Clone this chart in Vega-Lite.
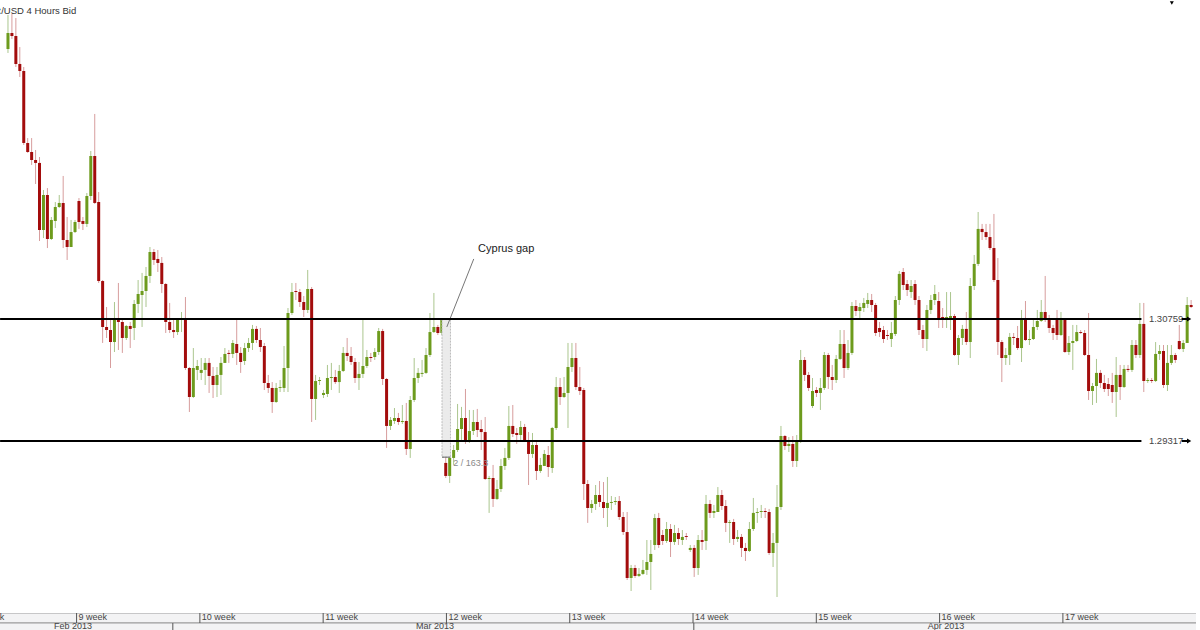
{
"$schema":"https://vega.github.io/schema/vega-lite/v6.json",
"autosize":{"type":"pad"},
"padding":0,
"background":"#eeeeee",
"spacing":0,
"bounds":"flush",
"config":{"view":{"stroke":null,"fill":"white"},"font":"Liberation Sans"},
"datasets":{
"candles":[
{"i":0,"o":1.33951,"h":1.34353,"l":1.33904,"c":1.34140},
{"i":1,"o":1.34140,"h":1.34365,"l":1.34069,"c":1.34104},
{"i":2,"o":1.34104,"h":1.34317,"l":1.33738,"c":1.33774},
{"i":3,"o":1.33774,"h":1.33974,"l":1.33620,"c":1.33691},
{"i":4,"o":1.33691,"h":1.33738,"l":1.32816,"c":1.32840},
{"i":5,"o":1.32840,"h":1.32898,"l":1.32722,"c":1.32733},
{"i":6,"o":1.32733,"h":1.32898,"l":1.32580,"c":1.32639},
{"i":7,"o":1.32639,"h":1.32757,"l":1.32355,"c":1.32604},
{"i":8,"o":1.32604,"h":1.32674,"l":1.31681,"c":1.31811},
{"i":9,"o":1.31811,"h":1.32284,"l":1.31716,"c":1.32225},
{"i":10,"o":1.32225,"h":1.32307,"l":1.31598,"c":1.31705},
{"i":11,"o":1.31705,"h":1.31965,"l":1.31693,"c":1.31930},
{"i":12,"o":1.31918,"h":1.32142,"l":1.31835,"c":1.32083},
{"i":13,"o":1.32083,"h":1.32225,"l":1.32071,"c":1.32131},
{"i":14,"o":1.32131,"h":1.32450,"l":1.31598,"c":1.31693},
{"i":15,"o":1.31693,"h":1.31965,"l":1.31457,"c":1.31610},
{"i":16,"o":1.31610,"h":1.31930,"l":1.31610,"c":1.31787},
{"i":17,"o":1.31787,"h":1.31930,"l":1.31776,"c":1.31906},
{"i":18,"o":1.32154,"h":1.32189,"l":1.31824,"c":1.31906},
{"i":19,"o":1.31918,"h":1.31965,"l":1.31811,"c":1.31883},
{"i":20,"o":1.31883,"h":1.32249,"l":1.31847,"c":1.32213},
{"i":21,"o":1.32213,"h":1.32745,"l":1.32166,"c":1.32686},
{"i":22,"o":1.32686,"h":1.33183,"l":1.32119,"c":1.32131},
{"i":23,"o":1.32142,"h":1.32260,"l":1.31185,"c":1.31208},
{"i":24,"o":1.31208,"h":1.31220,"l":1.30476,"c":1.30665},
{"i":25,"o":1.30665,"h":1.30901,"l":1.30535,"c":1.30629},
{"i":26,"o":1.30629,"h":1.30748,"l":1.30180,"c":1.30487},
{"i":27,"o":1.30487,"h":1.30960,"l":1.30369,"c":1.30748},
{"i":28,"o":1.30748,"h":1.31185,"l":1.30393,"c":1.30724},
{"i":29,"o":1.30724,"h":1.30748,"l":1.30358,"c":1.30535},
{"i":30,"o":1.30535,"h":1.30689,"l":1.30511,"c":1.30677},
{"i":31,"o":1.30677,"h":1.30724,"l":1.30416,"c":1.30642},
{"i":32,"o":1.30653,"h":1.30984,"l":1.30511,"c":1.30937},
{"i":33,"o":1.30937,"h":1.31220,"l":1.30830,"c":1.31055},
{"i":34,"o":1.31043,"h":1.31304,"l":1.30665,"c":1.31090},
{"i":35,"o":1.31090,"h":1.31374,"l":1.30901,"c":1.31268},
{"i":36,"o":1.31268,"h":1.31610,"l":1.31185,"c":1.31551},
{"i":37,"o":1.31551,"h":1.31587,"l":1.31398,"c":1.31457},
{"i":38,"o":1.31469,"h":1.31575,"l":1.31315,"c":1.31422},
{"i":39,"o":1.31422,"h":1.31492,"l":1.31067,"c":1.31173},
{"i":40,"o":1.31173,"h":1.31185,"l":1.30594,"c":1.30724},
{"i":41,"o":1.30724,"h":1.30949,"l":1.30594,"c":1.30629},
{"i":42,"o":1.30629,"h":1.30748,"l":1.30535,"c":1.30605},
{"i":43,"o":1.30605,"h":1.30771,"l":1.30570,"c":1.30759},
{"i":44,"o":1.30748,"h":1.30842,"l":1.30605,"c":1.30759},
{"i":45,"o":1.30748,"h":1.31019,"l":1.30157,"c":1.30180},
{"i":46,"o":1.30180,"h":1.30192,"l":1.29660,"c":1.29837},
{"i":47,"o":1.29837,"h":1.30416,"l":1.29825,"c":1.30180},
{"i":48,"o":1.30157,"h":1.30275,"l":1.30038,"c":1.30204},
{"i":49,"o":1.30122,"h":1.30298,"l":1.30038,"c":1.30157},
{"i":50,"o":1.30157,"h":1.30298,"l":1.29979,"c":1.30240},
{"i":51,"o":1.30240,"h":1.30298,"l":1.29885,"c":1.30086},
{"i":52,"o":1.30086,"h":1.30192,"l":1.29825,"c":1.29979},
{"i":53,"o":1.29979,"h":1.30192,"l":1.29837,"c":1.30098},
{"i":54,"o":1.30098,"h":1.30310,"l":1.29861,"c":1.30240},
{"i":55,"o":1.30240,"h":1.30416,"l":1.30240,"c":1.30346},
{"i":56,"o":1.30358,"h":1.30393,"l":1.30240,"c":1.30346},
{"i":57,"o":1.30346,"h":1.30511,"l":1.30298,"c":1.30476},
{"i":58,"o":1.30464,"h":1.30748,"l":1.30216,"c":1.30358},
{"i":59,"o":1.30358,"h":1.30428,"l":1.30122,"c":1.30251},
{"i":60,"o":1.30263,"h":1.30476,"l":1.30216,"c":1.30416},
{"i":61,"o":1.30416,"h":1.30535,"l":1.30369,"c":1.30476},
{"i":62,"o":1.30476,"h":1.30689,"l":1.30393,"c":1.30642},
{"i":63,"o":1.30642,"h":1.30677,"l":1.30476,"c":1.30511},
{"i":64,"o":1.30511,"h":1.30653,"l":1.30369,"c":1.30428},
{"i":65,"o":1.30440,"h":1.30476,"l":1.29920,"c":1.30003},
{"i":66,"o":1.30003,"h":1.30098,"l":1.29885,"c":1.29944},
{"i":67,"o":1.29944,"h":1.30014,"l":1.29649,"c":1.29778},
{"i":68,"o":1.29778,"h":1.30003,"l":1.29767,"c":1.29944},
{"i":69,"o":1.29944,"h":1.30038,"l":1.29896,"c":1.29955},
{"i":70,"o":1.29944,"h":1.30440,"l":1.29896,"c":1.30180},
{"i":71,"o":1.30180,"h":1.30889,"l":1.29896,"c":1.30830},
{"i":72,"o":1.30830,"h":1.31185,"l":1.30807,"c":1.31078},
{"i":73,"o":1.31090,"h":1.31185,"l":1.30984,"c":1.31078},
{"i":74,"o":1.31078,"h":1.31114,"l":1.30901,"c":1.30960},
{"i":75,"o":1.30960,"h":1.31031,"l":1.30783,"c":1.30866},
{"i":76,"o":1.30866,"h":1.31339,"l":1.30830,"c":1.31114},
{"i":77,"o":1.31114,"h":1.31137,"l":1.29542,"c":1.29814},
{"i":78,"o":1.29814,"h":1.30098,"l":1.29566,"c":1.30026},
{"i":79,"o":1.30026,"h":1.30074,"l":1.29979,"c":1.30038},
{"i":80,"o":1.29861,"h":1.29920,"l":1.29825,"c":1.29885},
{"i":81,"o":1.29873,"h":1.30216,"l":1.29837,"c":1.30062},
{"i":82,"o":1.30062,"h":1.30240,"l":1.29920,"c":1.30074},
{"i":83,"o":1.30074,"h":1.30157,"l":1.29991,"c":1.30014},
{"i":84,"o":1.30014,"h":1.30216,"l":1.29885,"c":1.30145},
{"i":85,"o":1.30145,"h":1.30428,"l":1.30133,"c":1.30358},
{"i":86,"o":1.30358,"h":1.30535,"l":1.30263,"c":1.30322},
{"i":87,"o":1.30322,"h":1.30428,"l":1.30216,"c":1.30251},
{"i":88,"o":1.30251,"h":1.30298,"l":1.30003,"c":1.30062},
{"i":89,"o":1.30062,"h":1.30251,"l":1.29920,"c":1.30110},
{"i":90,"o":1.30110,"h":1.30748,"l":1.30062,"c":1.30204},
{"i":91,"o":1.30204,"h":1.30393,"l":1.30180,"c":1.30310},
{"i":92,"o":1.30310,"h":1.30358,"l":1.30251,"c":1.30298},
{"i":93,"o":1.30310,"h":1.30416,"l":1.30275,"c":1.30369},
{"i":94,"o":1.30369,"h":1.30653,"l":1.30334,"c":1.30617},
{"i":95,"o":1.30617,"h":1.30642,"l":1.29979,"c":1.30050},
{"i":96,"o":1.30050,"h":1.30062,"l":1.29235,"c":1.29495},
{"i":97,"o":1.29495,"h":1.29601,"l":1.29447,"c":1.29566},
{"i":98,"o":1.29554,"h":1.29707,"l":1.29519,"c":1.29589},
{"i":99,"o":1.29589,"h":1.29649,"l":1.29507,"c":1.29542},
{"i":100,"o":1.29542,"h":1.29743,"l":1.29519,"c":1.29554},
{"i":101,"o":1.29554,"h":1.29767,"l":1.29152,"c":1.29223},
{"i":102,"o":1.29223,"h":1.29849,"l":1.29117,"c":1.29802},
{"i":103,"o":1.29802,"h":1.30298,"l":1.29778,"c":1.30062},
{"i":104,"o":1.30062,"h":1.30180,"l":1.30003,"c":1.30122},
{"i":105,"o":1.30110,"h":1.30275,"l":1.30074,"c":1.30122},
{"i":106,"o":1.30122,"h":1.30416,"l":1.30110,"c":1.30334},
{"i":107,"o":1.30334,"h":1.30830,"l":1.30310,"c":1.30605},
{"i":108,"o":1.30605,"h":1.31067,"l":1.30594,"c":1.30665},
{"i":109,"o":1.30665,"h":1.30689,"l":1.30570,"c":1.30594},
{"i":110,"o":1.30594,"h":1.30771,"l":1.30570,"c":1.30759},
{"i":111,"o":1.29058,"h":1.29126,"l":1.28880,"c":1.28904},
{"i":112,"o":1.28904,"h":1.29164,"l":1.28821,"c":1.29117},
{"i":113,"o":1.29117,"h":1.29270,"l":1.29034,"c":1.29211},
{"i":114,"o":1.29211,"h":1.29755,"l":1.29187,"c":1.29459},
{"i":115,"o":1.29459,"h":1.29720,"l":1.29329,"c":1.29589},
{"i":116,"o":1.29589,"h":1.29932,"l":1.29282,"c":1.29305},
{"i":117,"o":1.29305,"h":1.29684,"l":1.29294,"c":1.29435},
{"i":118,"o":1.29435,"h":1.29684,"l":1.29388,"c":1.29542},
{"i":119,"o":1.29542,"h":1.29696,"l":1.29364,"c":1.29447},
{"i":120,"o":1.29459,"h":1.29566,"l":1.29211,"c":1.29423},
{"i":121,"o":1.29423,"h":1.29601,"l":1.28856,"c":1.28868},
{"i":122,"o":1.28868,"h":1.28904,"l":1.28467,"c":1.28880},
{"i":123,"o":1.28880,"h":1.29034,"l":1.28537,"c":1.28632},
{"i":124,"o":1.28632,"h":1.28856,"l":1.28620,"c":1.28750},
{"i":125,"o":1.28750,"h":1.29105,"l":1.28714,"c":1.29022},
{"i":126,"o":1.29022,"h":1.29235,"l":1.28975,"c":1.29117},
{"i":127,"o":1.29117,"h":1.29731,"l":1.29093,"c":1.29495},
{"i":128,"o":1.29495,"h":1.29743,"l":1.29364,"c":1.29400},
{"i":129,"o":1.29412,"h":1.29471,"l":1.29282,"c":1.29388},
{"i":130,"o":1.29388,"h":1.29554,"l":1.29329,"c":1.29483},
{"i":131,"o":1.29483,"h":1.29519,"l":1.29305,"c":1.29329},
{"i":132,"o":1.29329,"h":1.29423,"l":1.28797,"c":1.29164},
{"i":133,"o":1.29164,"h":1.29412,"l":1.29117,"c":1.29270},
{"i":134,"o":1.29270,"h":1.29305,"l":1.28856,"c":1.28963},
{"i":135,"o":1.28963,"h":1.29117,"l":1.28940,"c":1.29034},
{"i":136,"o":1.29022,"h":1.29211,"l":1.29022,"c":1.29164},
{"i":137,"o":1.29152,"h":1.29258,"l":1.28892,"c":1.29010},
{"i":138,"o":1.28998,"h":1.29483,"l":1.28940,"c":1.29471},
{"i":139,"o":1.29471,"h":1.30074,"l":1.29447,"c":1.29955},
{"i":140,"o":1.29955,"h":1.30062,"l":1.29743,"c":1.29837},
{"i":141,"o":1.29837,"h":1.30074,"l":1.29825,"c":1.29885},
{"i":142,"o":1.29885,"h":1.30476,"l":1.29471,"c":1.30192},
{"i":143,"o":1.30192,"h":1.30476,"l":1.30133,"c":1.30298},
{"i":144,"o":1.30298,"h":1.30476,"l":1.29920,"c":1.29955},
{"i":145,"o":1.29955,"h":1.30192,"l":1.29861,"c":1.29908},
{"i":146,"o":1.29920,"h":1.29944,"l":1.28620,"c":1.28809},
{"i":147,"o":1.28809,"h":1.28856,"l":1.28349,"c":1.28525},
{"i":148,"o":1.28525,"h":1.28620,"l":1.28467,"c":1.28573},
{"i":149,"o":1.28573,"h":1.28797,"l":1.28502,"c":1.28679},
{"i":150,"o":1.28679,"h":1.28844,"l":1.28537,"c":1.28596},
{"i":151,"o":1.28596,"h":1.28832,"l":1.28407,"c":1.28525},
{"i":152,"o":1.28525,"h":1.28892,"l":1.28301,"c":1.28585},
{"i":153,"o":1.28585,"h":1.28667,"l":1.28502,"c":1.28596},
{"i":154,"o":1.28596,"h":1.28655,"l":1.28561,"c":1.28608},
{"i":155,"o":1.28608,"h":1.28667,"l":1.28384,"c":1.28419},
{"i":156,"o":1.28419,"h":1.28478,"l":1.28206,"c":1.28241},
{"i":157,"o":1.28241,"h":1.28478,"l":1.27674,"c":1.27698},
{"i":158,"o":1.27698,"h":1.27852,"l":1.27544,"c":1.27816},
{"i":159,"o":1.27816,"h":1.27852,"l":1.27698,"c":1.27722},
{"i":160,"o":1.27722,"h":1.27816,"l":1.27710,"c":1.27746},
{"i":161,"o":1.27746,"h":1.27911,"l":1.27734,"c":1.27793},
{"i":162,"o":1.27793,"h":1.28147,"l":1.27734,"c":1.27887},
{"i":163,"o":1.27887,"h":1.28147,"l":1.27556,"c":1.27982},
{"i":164,"o":1.28088,"h":1.28455,"l":1.28029,"c":1.28407},
{"i":165,"o":1.28407,"h":1.28467,"l":1.28053,"c":1.28088},
{"i":166,"o":1.28206,"h":1.28265,"l":1.28088,"c":1.28135},
{"i":167,"o":1.28135,"h":1.28360,"l":1.28112,"c":1.28277},
{"i":168,"o":1.28277,"h":1.28336,"l":1.27946,"c":1.28124},
{"i":169,"o":1.28124,"h":1.28325,"l":1.28088,"c":1.28230},
{"i":170,"o":1.28230,"h":1.28289,"l":1.28088,"c":1.28159},
{"i":171,"o":1.28147,"h":1.28265,"l":1.28088,"c":1.28183},
{"i":172,"o":1.28194,"h":1.28230,"l":1.28147,"c":1.28183},
{"i":173,"o":1.28029,"h":1.28088,"l":1.28005,"c":1.28053},
{"i":174,"o":1.28053,"h":1.28088,"l":1.27710,"c":1.27816},
{"i":175,"o":1.27816,"h":1.28206,"l":1.27734,"c":1.28147},
{"i":176,"o":1.28147,"h":1.28265,"l":1.28029,"c":1.28124},
{"i":177,"o":1.28135,"h":1.28679,"l":1.28029,"c":1.28573},
{"i":178,"o":1.28573,"h":1.28620,"l":1.28407,"c":1.28467},
{"i":179,"o":1.28467,"h":1.28561,"l":1.28407,"c":1.28490},
{"i":180,"o":1.28478,"h":1.28773,"l":1.28478,"c":1.28679},
{"i":181,"o":1.28679,"h":1.28738,"l":1.28502,"c":1.28549},
{"i":182,"o":1.28549,"h":1.28620,"l":1.28241,"c":1.28349},
{"i":183,"o":1.28349,"h":1.28384,"l":1.28112,"c":1.28360},
{"i":184,"o":1.28360,"h":1.28396,"l":1.28088,"c":1.28159},
{"i":185,"o":1.28159,"h":1.28265,"l":1.28124,"c":1.28183},
{"i":186,"o":1.28183,"h":1.28218,"l":1.27946,"c":1.28053},
{"i":187,"o":1.28053,"h":1.28112,"l":1.27899,"c":1.28017},
{"i":188,"o":1.28017,"h":1.28360,"l":1.28005,"c":1.28277},
{"i":189,"o":1.28277,"h":1.28644,"l":1.28253,"c":1.28467},
{"i":190,"o":1.28467,"h":1.28525,"l":1.28349,"c":1.28478},
{"i":191,"o":1.28478,"h":1.28561,"l":1.28407,"c":1.28490},
{"i":192,"o":1.28490,"h":1.28525,"l":1.28407,"c":1.28478},
{"i":193,"o":1.28478,"h":1.28514,"l":1.27970,"c":1.27993},
{"i":194,"o":1.27993,"h":1.28230,"l":1.27828,"c":1.28112},
{"i":195,"o":1.28112,"h":1.28797,"l":1.27473,"c":1.28537},
{"i":196,"o":1.28537,"h":1.29495,"l":1.28502,"c":1.29376},
{"i":197,"o":1.29376,"h":1.29388,"l":1.29211,"c":1.29258},
{"i":198,"o":1.29258,"h":1.29364,"l":1.29187,"c":1.29282},
{"i":199,"o":1.29282,"h":1.29376,"l":1.29010,"c":1.29081},
{"i":200,"o":1.29081,"h":1.29388,"l":1.29010,"c":1.29317},
{"i":201,"o":1.29317,"h":1.30393,"l":1.29294,"c":1.30275},
{"i":202,"o":1.30275,"h":1.30310,"l":1.30026,"c":1.30098},
{"i":203,"o":1.30098,"h":1.30133,"l":1.29908,"c":1.29944},
{"i":204,"o":1.29731,"h":1.30062,"l":1.29707,"c":1.29908},
{"i":205,"o":1.29920,"h":1.29955,"l":1.29837,"c":1.29885},
{"i":206,"o":1.29885,"h":1.30062,"l":1.29684,"c":1.29944},
{"i":207,"o":1.29944,"h":1.30369,"l":1.29920,"c":1.30334},
{"i":208,"o":1.30334,"h":1.30358,"l":1.29932,"c":1.30074},
{"i":209,"o":1.30074,"h":1.30216,"l":1.29920,"c":1.30038},
{"i":210,"o":1.30038,"h":1.30334,"l":1.30003,"c":1.30287},
{"i":211,"o":1.30287,"h":1.30629,"l":1.30275,"c":1.30464},
{"i":212,"o":1.30464,"h":1.30629,"l":1.30062,"c":1.30180},
{"i":213,"o":1.30180,"h":1.30511,"l":1.30157,"c":1.30358},
{"i":214,"o":1.30358,"h":1.30960,"l":1.30334,"c":1.30913},
{"i":215,"o":1.30913,"h":1.30984,"l":1.30795,"c":1.30854},
{"i":216,"o":1.30854,"h":1.30949,"l":1.30771,"c":1.30901},
{"i":217,"o":1.30889,"h":1.31008,"l":1.30842,"c":1.30949},
{"i":218,"o":1.30937,"h":1.31067,"l":1.30889,"c":1.30984},
{"i":219,"o":1.30984,"h":1.31055,"l":1.30842,"c":1.30925},
{"i":220,"o":1.30925,"h":1.30949,"l":1.30558,"c":1.30594},
{"i":221,"o":1.30653,"h":1.30724,"l":1.30547,"c":1.30605},
{"i":222,"o":1.30629,"h":1.30677,"l":1.30476,"c":1.30523},
{"i":223,"o":1.30570,"h":1.30629,"l":1.30511,"c":1.30558},
{"i":224,"o":1.30523,"h":1.30724,"l":1.30428,"c":1.30594},
{"i":225,"o":1.30582,"h":1.31031,"l":1.30558,"c":1.30984},
{"i":226,"o":1.30984,"h":1.31327,"l":1.30925,"c":1.31292},
{"i":227,"o":1.31315,"h":1.31362,"l":1.31102,"c":1.31161},
{"i":228,"o":1.31173,"h":1.31220,"l":1.31031,"c":1.31102},
{"i":229,"o":1.31078,"h":1.31220,"l":1.31008,"c":1.31149},
{"i":230,"o":1.31173,"h":1.31220,"l":1.30925,"c":1.30984},
{"i":231,"o":1.30984,"h":1.31031,"l":1.30570,"c":1.30629},
{"i":232,"o":1.30629,"h":1.30689,"l":1.30416,"c":1.30523},
{"i":233,"o":1.30523,"h":1.30925,"l":1.30381,"c":1.30866},
{"i":234,"o":1.30866,"h":1.31043,"l":1.30818,"c":1.30984},
{"i":235,"o":1.30984,"h":1.31161,"l":1.30925,"c":1.31055},
{"i":236,"o":1.30972,"h":1.31078,"l":1.30653,"c":1.30771},
{"i":237,"o":1.30783,"h":1.30889,"l":1.30653,"c":1.30759},
{"i":238,"o":1.30759,"h":1.31078,"l":1.30653,"c":1.30783},
{"i":239,"o":1.30771,"h":1.31078,"l":1.30629,"c":1.30795},
{"i":240,"o":1.30795,"h":1.30818,"l":1.30322,"c":1.30334},
{"i":241,"o":1.30334,"h":1.30570,"l":1.30216,"c":1.30535},
{"i":242,"o":1.30535,"h":1.30689,"l":1.30452,"c":1.30642},
{"i":243,"o":1.30642,"h":1.30842,"l":1.30452,"c":1.30487},
{"i":244,"o":1.30487,"h":1.31244,"l":1.30298,"c":1.31149},
{"i":245,"o":1.31149,"h":1.31516,"l":1.31102,"c":1.31410},
{"i":246,"o":1.31410,"h":1.32024,"l":1.31386,"c":1.31824},
{"i":247,"o":1.31824,"h":1.31883,"l":1.31693,"c":1.31787},
{"i":248,"o":1.31787,"h":1.31883,"l":1.31693,"c":1.31728},
{"i":249,"o":1.31728,"h":1.31883,"l":1.31575,"c":1.31598},
{"i":250,"o":1.31598,"h":1.32001,"l":1.31197,"c":1.31220},
{"i":251,"o":1.31220,"h":1.31480,"l":1.30334,"c":1.30487},
{"i":252,"o":1.30487,"h":1.30511,"l":1.30014,"c":1.30298},
{"i":253,"o":1.30298,"h":1.30416,"l":1.30216,"c":1.30334},
{"i":254,"o":1.30334,"h":1.30594,"l":1.30216,"c":1.30547},
{"i":255,"o":1.30547,"h":1.30594,"l":1.30452,"c":1.30535},
{"i":256,"o":1.30535,"h":1.30677,"l":1.30393,"c":1.30416},
{"i":257,"o":1.30416,"h":1.30866,"l":1.30251,"c":1.30759},
{"i":258,"o":1.30759,"h":1.30972,"l":1.30499,"c":1.30511},
{"i":259,"o":1.30511,"h":1.30629,"l":1.30452,"c":1.30523},
{"i":260,"o":1.30523,"h":1.30748,"l":1.30511,"c":1.30665},
{"i":261,"o":1.30665,"h":1.30866,"l":1.30629,"c":1.30736},
{"i":262,"o":1.30736,"h":1.30984,"l":1.30724,"c":1.30842},
{"i":263,"o":1.30842,"h":1.31268,"l":1.30724,"c":1.30759},
{"i":264,"o":1.30759,"h":1.30807,"l":1.30594,"c":1.30653},
{"i":265,"o":1.30653,"h":1.30689,"l":1.30511,"c":1.30594},
{"i":266,"o":1.30759,"h":1.30866,"l":1.30511,"c":1.30570},
{"i":267,"o":1.30570,"h":1.30842,"l":1.30558,"c":1.30759},
{"i":268,"o":1.30759,"h":1.30771,"l":1.30358,"c":1.30369},
{"i":269,"o":1.30369,"h":1.30558,"l":1.30334,"c":1.30476},
{"i":270,"o":1.30476,"h":1.30689,"l":1.30157,"c":1.30499},
{"i":271,"o":1.30499,"h":1.30689,"l":1.30487,"c":1.30605},
{"i":272,"o":1.30605,"h":1.30629,"l":1.30582,"c":1.30594},
{"i":273,"o":1.30594,"h":1.30629,"l":1.30322,"c":1.30334},
{"i":274,"o":1.30334,"h":1.30830,"l":1.29802,"c":1.29908},
{"i":275,"o":1.29908,"h":1.30003,"l":1.29743,"c":1.29967},
{"i":276,"o":1.29967,"h":1.30287,"l":1.29767,"c":1.30122},
{"i":277,"o":1.30122,"h":1.30157,"l":1.29944,"c":1.30003},
{"i":278,"o":1.30003,"h":1.30098,"l":1.29896,"c":1.29932},
{"i":279,"o":1.29991,"h":1.30062,"l":1.29849,"c":1.29932},
{"i":280,"o":1.29979,"h":1.30122,"l":1.29767,"c":1.29896},
{"i":281,"o":1.29896,"h":1.30310,"l":1.29601,"c":1.30098},
{"i":282,"o":1.30098,"h":1.30216,"l":1.29802,"c":1.29955},
{"i":283,"o":1.29955,"h":1.30216,"l":1.29944,"c":1.30169},
{"i":284,"o":1.30169,"h":1.30216,"l":1.30133,"c":1.30157},
{"i":285,"o":1.30157,"h":1.30511,"l":1.30133,"c":1.30452},
{"i":286,"o":1.30452,"h":1.30511,"l":1.30298,"c":1.30334},
{"i":287,"o":1.30334,"h":1.30949,"l":1.30298,"c":1.30701},
{"i":288,"o":1.30701,"h":1.30949,"l":1.29896,"c":1.30026},
{"i":289,"o":1.30026,"h":1.30062,"l":1.30003,"c":1.30038},
{"i":290,"o":1.30038,"h":1.30062,"l":1.30003,"c":1.30026},
{"i":291,"o":1.30026,"h":1.30487,"l":1.30014,"c":1.30346},
{"i":292,"o":1.30346,"h":1.30452,"l":1.30275,"c":1.30381},
{"i":293,"o":1.30381,"h":1.30452,"l":1.29944,"c":1.29979},
{"i":294,"o":1.29979,"h":1.30452,"l":1.29908,"c":1.30240},
{"i":295,"o":1.30240,"h":1.30452,"l":1.30216,"c":1.30334},
{"i":296,"o":1.30334,"h":1.30358,"l":1.30240,"c":1.30275},
{"i":297,"o":1.30499,"h":1.30689,"l":1.30393,"c":1.30405},
{"i":298,"o":1.30405,"h":1.30511,"l":1.30369,"c":1.30476},
{"i":299,"o":1.30476,"h":1.31019,"l":1.30476,"c":1.30925},
{"i":300,"o":1.30925,"h":1.30984,"l":1.30889,"c":1.30901}
],
"levels":[{"v":1.30759,"label":"1.30759"},{"v":1.29317,"label":"1.29317"}],
"gap":[{"top":1.30759,"bottom":1.29126,"label":"2 / 163.3","note":"Cyprus gap"}],
"weeks":[
{"label":"9 week","i":18.5,"row":"week"},
{"label":"10 week","i":49.5,"row":"week"},
{"label":"11 week","i":80.5,"row":"week"},
{"label":"12 week","i":111.5,"row":"week"},
{"label":"13 week","i":142.5,"row":"week"},
{"label":"14 week","i":173.5,"row":"week"},
{"label":"15 week","i":204.5,"row":"week"},
{"label":"16 week","i":235.5,"row":"week"},
{"label":"17 week","i":266.5,"row":"week"}
],
"months":[
{"label":"Feb 2013","i":17.6,"row":"month"},
{"label":"Mar 2013","i":108.6,"row":"month"},
{"label":"Apr 2013","i":237.1,"row":"month"}
],
"monthStarts":[{"i":42.7,"row":"month"},{"i":173.7,"row":"month"}],
"rows":[{"row":"week"},{"row":"month"}]
},
"vconcat":[
{
"width":1196,"height":613,
"layer":[
{"data":{"name":"candles"},
 "mark":{"type":"rule","strokeWidth":1,"clip":true},
 "encoding":{
  "x":{"field":"i","type":"quantitative","scale":{"domain":[-0.754,299.97],"nice":false,"zero":false},
       "axis":{"orient":"bottom","title":null,"grid":true,"gridColor":"#ebebeb","values":[18.5,49.5,80.5,111.5,142.5,173.5,204.5,235.5,266.5],"labels":false,"ticks":false,"domain":false}},
  "y":{"field":"l","type":"quantitative","scale":{"domain":[1.27284,1.3453],"nice":false,"zero":false},
       "axis":{"orient":"right","title":null,"grid":true,"gridColor":"#ececec","labels":false,"ticks":true,"tickSize":4,"tickColor":"#777777","domain":true,"domainColor":"#bbbbbb",
       "values":[1.274,1.276,1.278,1.28,1.282,1.284,1.286,1.288,1.29,1.292,1.294,1.296,1.298,1.3,1.302,1.304,1.306,1.308,1.31,1.312,1.314,1.316,1.318,1.32,1.322,1.324,1.326,1.328,1.33,1.332,1.334,1.336,1.338,1.34,1.342,1.344]}},
  "y2":{"field":"h"},
  "color":{"condition":{"test":"datum.c >= datum.o","value":"#abc68e"},"value":"#d79d9d"}
 }},
{"data":{"name":"candles"},
 "mark":{"type":"bar","width":3,"clip":true},
 "encoding":{
  "x":{"field":"i","type":"quantitative","axis":null},
  "y":{"field":"o","type":"quantitative","axis":null},
  "y2":{"field":"c"},
  "color":{"condition":{"test":"datum.c >= datum.o","value":"#6d9b1d"},"value":"#a30c0c"}
 }},
{"data":{"name":"gap"},
 "mark":{"type":"rect","fill":"#ebebeb","stroke":"#bdbdbd","strokeWidth":1,"strokeDash":[2,1]},
 "encoding":{"x":{"datum":110.06,"axis":null},"x2":{"datum":112.2},"y":{"field":"top","type":"quantitative","axis":null},"y2":{"field":"bottom"}}},
{"data":{"name":"gap"},
 "mark":{"type":"rule","color":"#666666","strokeWidth":1},
 "encoding":{"x":{"datum":110.06,"axis":null},"x2":{"datum":112.2},"y":{"field":"bottom","type":"quantitative","axis":null}}},
{"data":{"name":"gap"},
 "mark":{"type":"text","align":"left","baseline":"middle","fontSize":9,"color":"#8a8a8a"},
 "encoding":{"x":{"datum":112.9,"axis":null},"y":{"datum":1.29058,"axis":null},"text":{"field":"label"}}},
{"data":{"name":"gap"},
 "mark":{"type":"rule","color":"#777777","strokeWidth":1},
 "encoding":{"x":{"datum":111.27,"axis":null},"x2":{"datum":118.1},"y":{"datum":1.30665,"axis":null},"y2":{"datum":1.31469}}},
{"data":{"name":"gap"},
 "mark":{"type":"text","align":"left","baseline":"middle","fontSize":11,"color":"#1a1a1a"},
 "encoding":{"x":{"datum":119.2,"axis":null},"y":{"datum":1.31587,"axis":null},"text":{"field":"note"}}},
{"data":{"name":"levels"},
 "mark":{"type":"rule","color":"#000000","strokeWidth":2,"clip":true},
 "encoding":{"x":{"datum":-2,"axis":null},"x2":{"datum":287.4},"y":{"field":"v","type":"quantitative","axis":null}}},
{"data":{"name":"levels"},
 "mark":{"type":"text","align":"left","baseline":"middle","fontSize":9.5,"color":"#444444"},
 "encoding":{"x":{"datum":289.3,"axis":null},"y":{"field":"v","type":"quantitative","axis":null},"text":{"field":"label"}}},
{"data":{"name":"levels"},
 "mark":{"type":"rule","color":"#000000","strokeWidth":2},
 "encoding":{"x":{"datum":297.6,"axis":null},"x2":{"datum":299.3},"y":{"field":"v","type":"quantitative","axis":null}}},
{"data":{"name":"levels"},
 "mark":{"type":"point","shape":"triangle-right","filled":true,"size":24,"color":"#000000","opacity":1},
 "encoding":{"x":{"datum":299.5,"axis":null},"y":{"field":"v","type":"quantitative","axis":null}}},
{"data":{"values":[{"t":"EUR/USD  4 Hours Bid"}]},
 "mark":{"type":"text","align":"left","baseline":"middle","fontSize":9.5,"color":"#333333","clip":true},
 "encoding":{"x":{"datum":-6.8,"axis":null},"y":{"datum":1.344,"axis":null},"text":{"field":"t"}}},
{"data":{"values":[{"t":"marker"}]},
 "mark":{"type":"point","shape":"triangle-down","filled":true,"size":16,"color":"#000000","opacity":1},
 "encoding":{"x":{"datum":295.1,"axis":null},"y":{"datum":1.34495,"axis":null}}}
]
},
{
"width":1196,"height":20,
"layer":[
{"data":{"name":"rows"},
 "mark":{"type":"rect","fill":"#f3f3f4","stroke":"#9b9b9b","strokeWidth":1,"clip":true},
 "encoding":{
  "x":{"datum":-3,"type":"quantitative","scale":{"domain":[-0.754,299.97],"nice":false,"zero":false},"axis":null},
  "x2":{"datum":305},
  "y":{"field":"row","type":"nominal","scale":{"domain":["week","month"],"paddingInner":0,"paddingOuter":0},"axis":null}
 }},
{"data":{"name":"weeks"},
 "mark":{"type":"tick","thickness":1,"size":10,"color":"#555555","opacity":1},
 "encoding":{"x":{"field":"i","type":"quantitative","axis":null},"y":{"field":"row","type":"nominal","axis":null}}},
{"data":{"name":"weeks"},
 "mark":{"type":"text","align":"left","baseline":"middle","dx":2,"dy":-1,"fontSize":9,"color":"#454545"},
 "encoding":{"x":{"field":"i","type":"quantitative","axis":null},"y":{"field":"row","type":"nominal","axis":null},"text":{"field":"label"}}},
{"data":{"values":[{"label":"8 week","row":"week"}]},
 "mark":{"type":"text","align":"right","baseline":"middle","dy":-1,"fontSize":9,"color":"#454545","clip":true},
 "encoding":{"x":{"datum":0.3,"axis":null},"y":{"field":"row","type":"nominal","axis":null},"text":{"field":"label"}}},
{"data":{"name":"monthStarts"},
 "mark":{"type":"tick","thickness":1,"size":10,"color":"#555555","opacity":1},
 "encoding":{"x":{"field":"i","type":"quantitative","axis":null},"y":{"field":"row","type":"nominal","axis":null}}},
{"data":{"name":"months"},
 "mark":{"type":"text","align":"center","baseline":"middle","dy":-2,"fontSize":9,"color":"#454545"},
 "encoding":{"x":{"field":"i","type":"quantitative","axis":null},"y":{"field":"row","type":"nominal","axis":null},"text":{"field":"label"}}}
]
}
]
}
